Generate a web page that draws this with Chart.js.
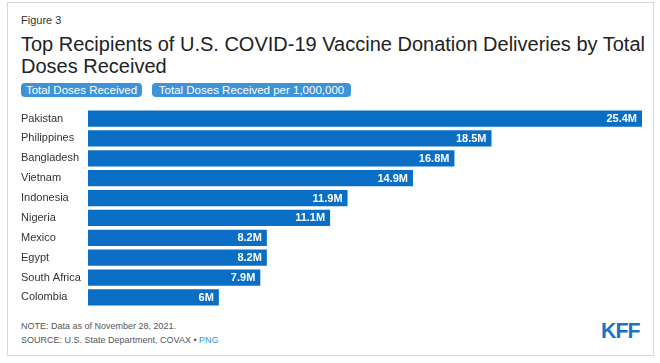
<!DOCTYPE html>
<html>
<head>
<meta charset="utf-8">
<script src="https://cdn.jsdelivr.net/npm/chart.js@4/dist/chart.umd.min.js"></script>
<style>
  html, body { margin: 0; padding: 0; background: #fff; }
  body { width: 660px; height: 363px; position: relative; overflow: hidden; font-family: "Liberation Sans", Arial, sans-serif; }
  #frame { position: absolute; left: 7px; top: 2px; width: 647px; height: 354px; border: 1px solid #d8d8d8; box-sizing: border-box; }
  #fig { position: absolute; left: 21px; top: 14px; font-size: 11px; color: #333; }
  #title { position: absolute; left: 21px; top: 33px; width: 630px; font-size: 20px; line-height: 22px; color: #222; }
  .btn { position: absolute; top: 83px; height: 14px; line-height: 14px; border-radius: 4px; background: #3d93d8; color: #fff; font-size: 11.5px; text-align: center; }
  #b1 { left: 21px; width: 121px; }
  #b2 { left: 152px; width: 199px; }
  #wrap { position: absolute; left: 0; top: 98px; width: 660px; height: 220px; }
  #note { position: absolute; left: 21px; top: 319px; font-size: 9px; line-height: 14px; color: #555; }
  #note span { color: #3d93d8; }
  #kff { position: absolute; left: 601px; top: 320px; font-size: 22px; line-height: 22px; font-weight: bold; color: #1a73c7; letter-spacing: -1px; transform: scaleX(0.97); transform-origin: left; }
</style>
</head>
<body>
<div id="frame"></div>
<div id="fig">Figure 3</div>
<div id="title">Top Recipients of U.S. COVID-19 Vaccine Donation Deliveries by Total Doses Received</div>
<div class="btn" id="b1">Total Doses Received</div>
<div class="btn" id="b2">Total Doses Received per 1,000,000</div>
<div id="wrap"><canvas id="c" width="660" height="220"></canvas></div>
<div id="note">NOTE: Data as of November 28, 2021.<br>SOURCE: U.S. State Department, COVAX • <span>PNG</span></div>
<div id="kff">KFF</div>
<script>
const categories = ["Pakistan","Philippines","Bangladesh","Vietnam","Indonesia","Nigeria","Mexico","Egypt","South Africa","Colombia"];
const dosesMillions = [25.4, 18.5, 16.8, 14.9, 11.9, 11.1, 8.2, 8.2, 7.9, 6];
const valueLabels = ["25.4M","18.5M","16.8M","14.9M","11.9M","11.1M","8.2M","8.2M","7.9M","6M"];

const labelPlugin = {
  id: 'barLabels',
  afterDatasetsDraw(chart) {
    const ctx = chart.ctx;
    const meta = chart.getDatasetMeta(0);
    ctx.save();
    ctx.fillStyle = '#fff';
    ctx.font = 'bold 11px "Liberation Sans", Arial, sans-serif';
    ctx.textAlign = 'right';
    ctx.textBaseline = 'middle';
    meta.data.forEach((bar, i) => {
      ctx.fillText(valueLabels[i], bar.x - 5, bar.y + 0.5);
    });
    ctx.restore();
  }
};

new Chart(document.getElementById('c'), {
  type: 'bar',
  data: {
    labels: categories,
    datasets: [{
      data: dosesMillions,
      backgroundColor: '#0b6ec5',
      barPercentage: 0.82,
      categoryPercentage: 1.0
    }]
  },
  options: {
    indexAxis: 'y',
    responsive: false,
    animation: false,
    layout: { padding: { left: 21, right: 18, top: 5.5, bottom: 7.5 } },
    plugins: { legend: { display: false }, tooltip: { enabled: false } },
    scales: {
      x: { display: false, min: 0, max: 25.4 },
      y: {
        grid: { display: false },
        border: { display: false },
        ticks: {
          crossAlign: 'far',
          padding: 4,
          color: '#333',
          font: { size: 11, family: '"Liberation Sans", Arial, sans-serif' }
        },
        afterFit(scale) { scale.width = 67; }
      }
    }
  },
  plugins: [labelPlugin]
});
</script>
</body>
</html>
